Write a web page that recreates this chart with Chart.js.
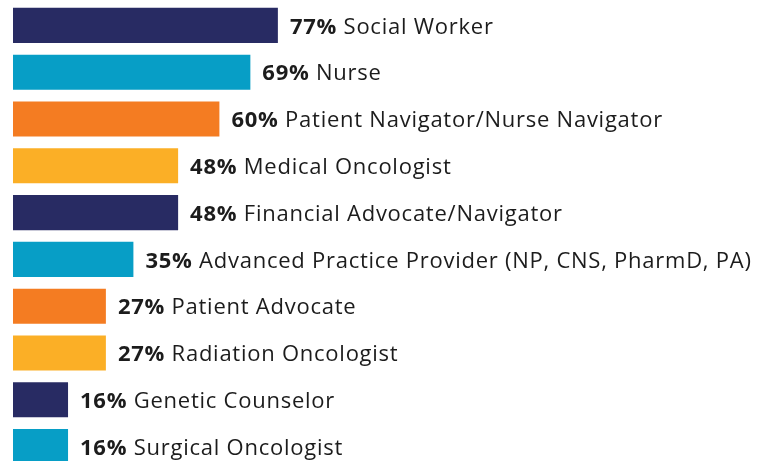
<!DOCTYPE html>
<html>
<head>
<meta charset="utf-8">
<script src="https://cdn.jsdelivr.net/npm/chart.js@4/dist/chart.umd.min.js"></script>
<style>
  html, body { margin: 0; padding: 0; background: #fff; overflow: hidden; }
  #wrap { width: 766px; height: 470px; }
</style>
</head>
<body>
<div id="wrap"><canvas id="grafico" width="766" height="470"></canvas></div>
<script>
// dati del grafico
var ruoli = ['Social Worker', 'Nurse', 'Patient Navigator/Nurse Navigator', 'Medical Oncologist',
  'Financial Advocate/Navigator', 'Advanced Practice Provider (NP, CNS, PharmD, PA)', 'Patient Advocate',
  'Radiation Oncologist', 'Genetic Counselor', 'Surgical Oncologist'];
var percentuali = [77, 69, 60, 48, 48, 35, 27, 27, 16, 16];

// colori a rotazione
var palette = ['#282b63', '#079ec6', '#f47c22', '#fbaf26'];
var coloriBarre = [];
for (var i = 0; i < percentuali.length; i++) {
  coloriBarre.push(palette[i % palette.length]);
}

var fontFamily = '"Open Sans", "Noto Sans", sans-serif';

// plugin per scrivere le etichette a destra delle barre
var etichettePlugin = {
  id: 'etichette',
  afterDatasetsDraw: function (chart) {
    var ctx = chart.ctx;
    var meta = chart.getDatasetMeta(0);
    ctx.save();
    ctx.textBaseline = 'middle';
    ctx.fillStyle = '#1c1c1c';
    ctx.letterSpacing = '0.75px';
    meta.data.forEach(function (bar, i) {
      var x = bar.x + 12;
      var y = bar.y + 2;
      var perc = percentuali[i] + '%';
      ctx.font = 'bold 22px ' + fontFamily;
      ctx.fillText(perc, x, y);
      var w = ctx.measureText(perc).width;
      ctx.font = '22px ' + fontFamily;
      ctx.fillText(' ' + ruoli[i], x + w, y);
    });
    ctx.restore();
  }
};

var grafico = new Chart(document.getElementById('grafico'), {
  type: 'bar',
  data: {
    labels: ruoli,
    datasets: [{
      data: percentuali,
      backgroundColor: coloriBarre,
      borderWidth: 0,
      barPercentage: 0.75,
      categoryPercentage: 1
    }]
  },
  options: {
    indexAxis: 'y',
    responsive: false,
    animation: false,
    layout: { padding: { left: 13, top: 2, right: 409, bottom: 0 } },
    plugins: { legend: { display: false }, tooltip: { enabled: false } },
    scales: {
      x: { display: false, min: 0, max: 100 },
      y: { display: false }
    }
  },
  plugins: [etichettePlugin]
});
</script>
</body>
</html>
